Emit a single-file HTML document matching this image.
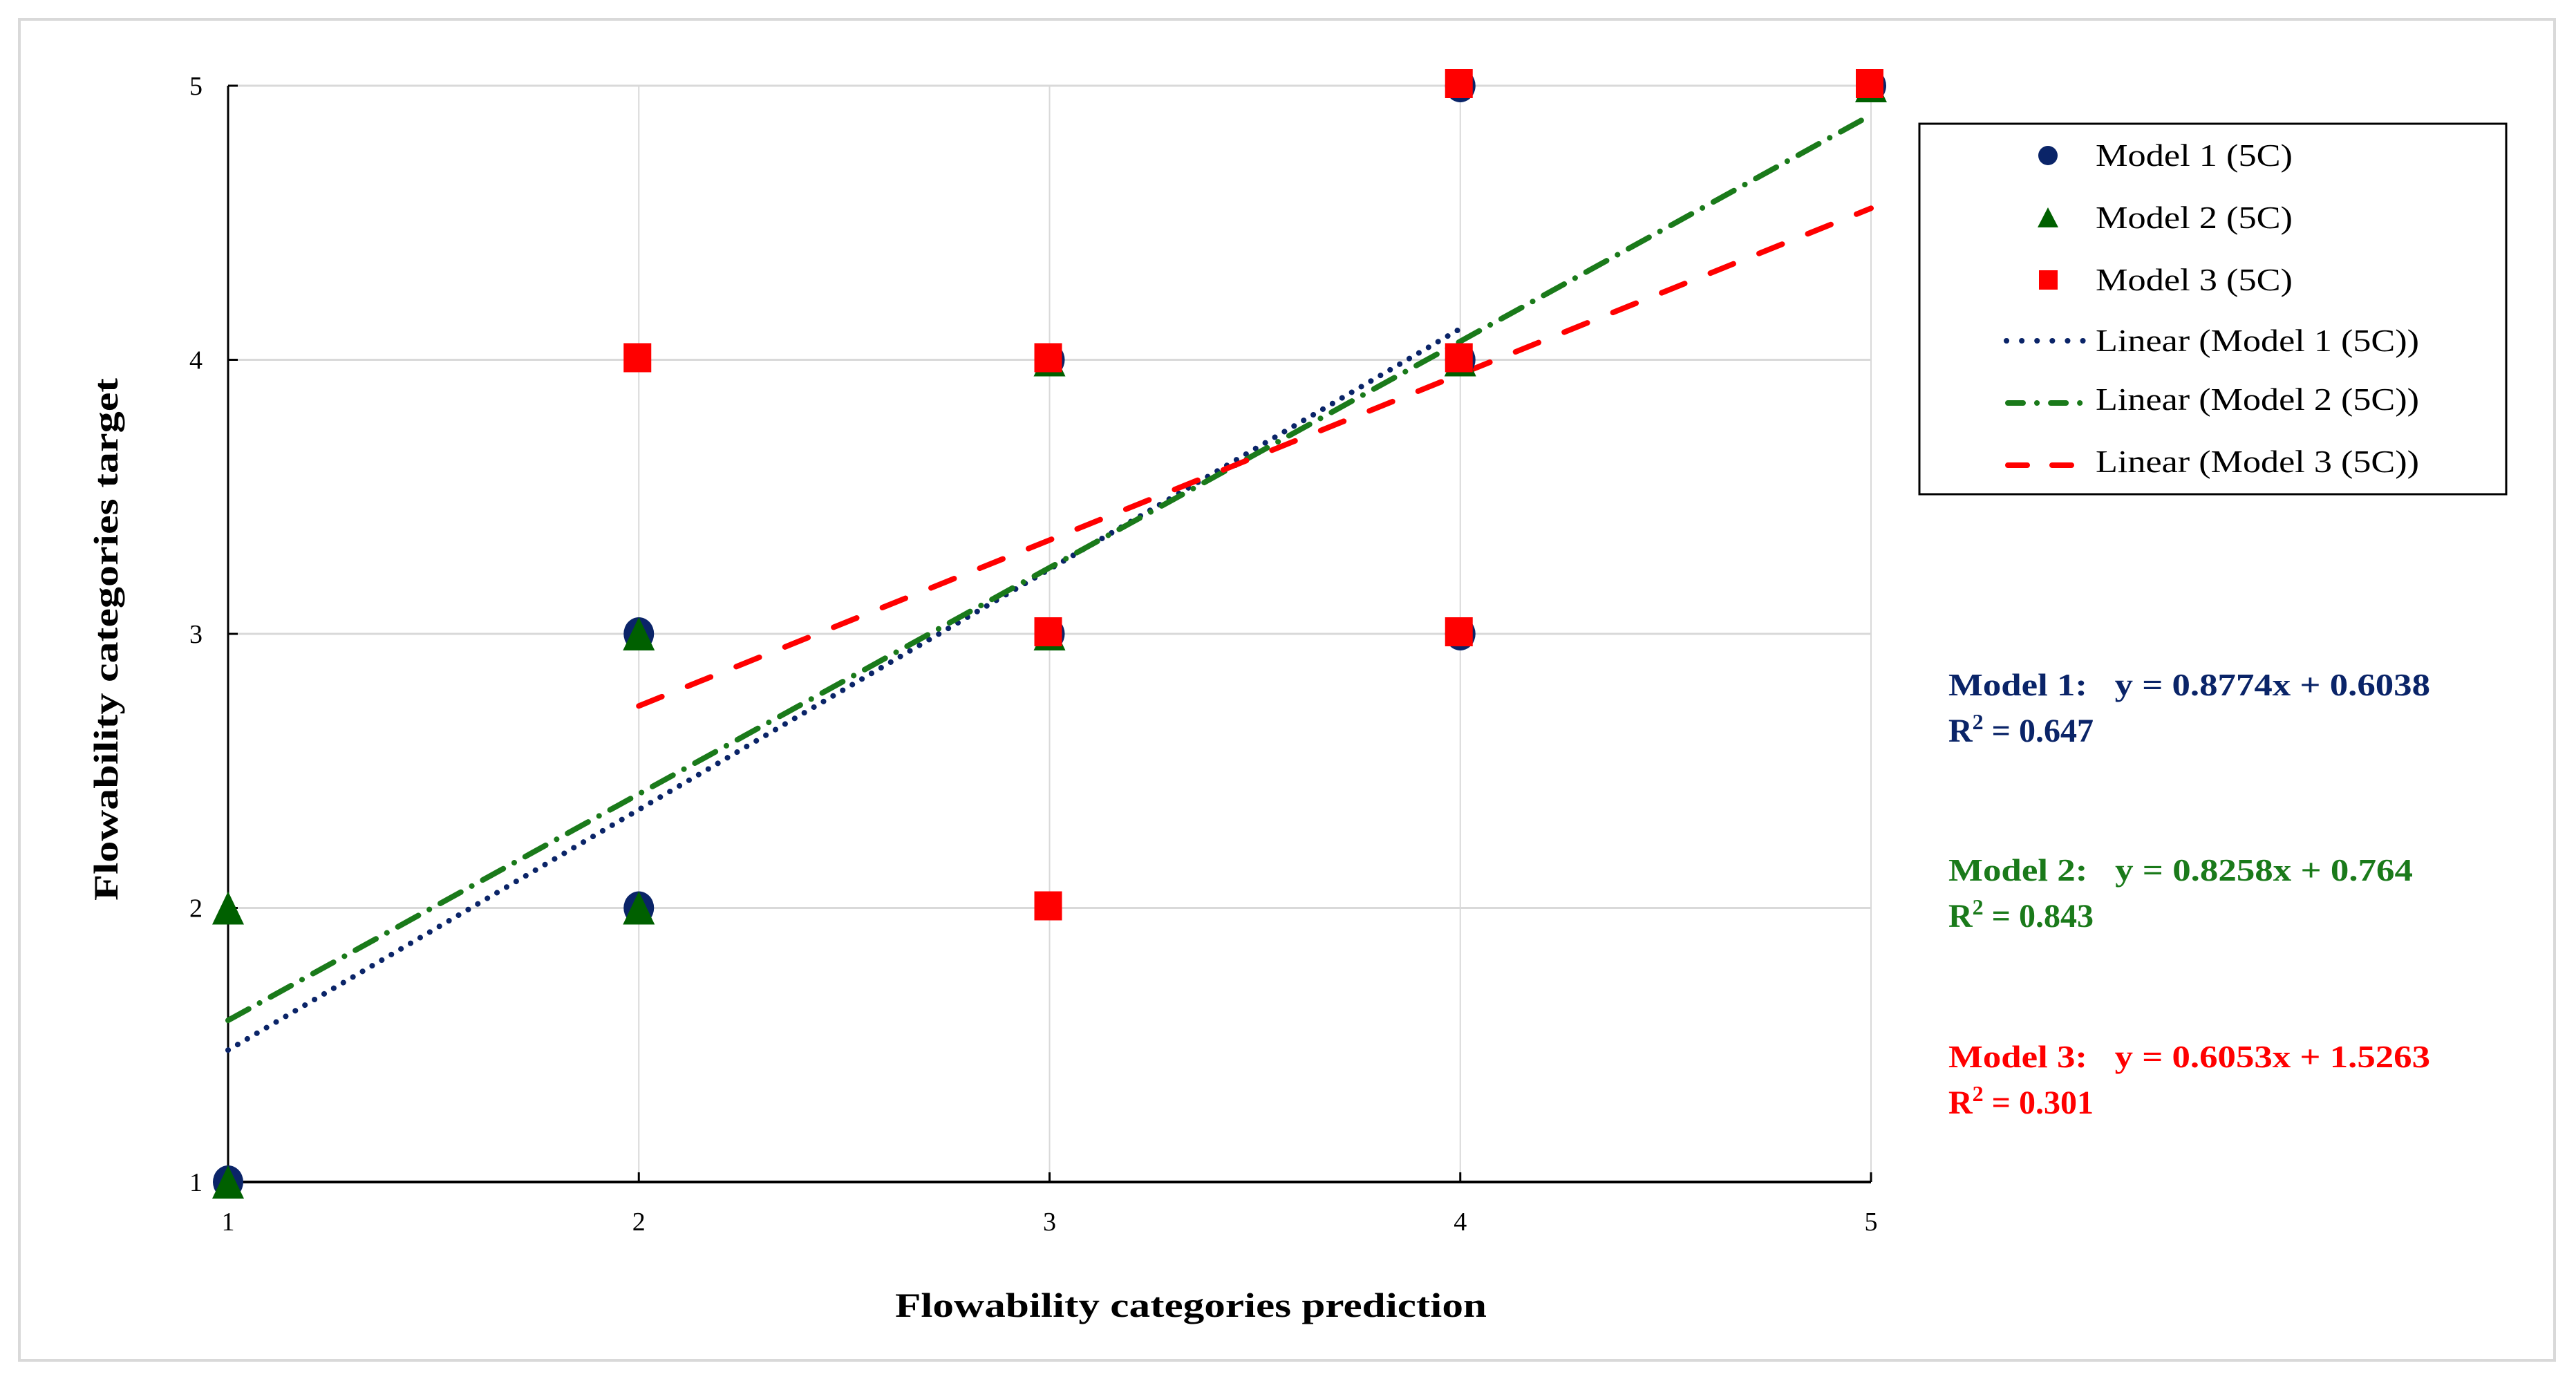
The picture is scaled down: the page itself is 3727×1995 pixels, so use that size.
<!DOCTYPE html>
<html><head><meta charset="utf-8"><style>
html,body{margin:0;padding:0;background:#fff;}
svg{display:block;font-family:"Liberation Serif",serif;}
</style></head><body>
<svg id="chart" width="3727" height="1995" viewBox="0 0 3727 1995" xmlns="http://www.w3.org/2000/svg">
<rect x="28" y="28" width="3668" height="1940" fill="#fff" stroke="#d9d9d9" stroke-width="4"/>
<g id="grid"></g>
<g id="axes"></g>
<g id="trends"></g>
<g id="points"></g>
<text x="1723" y="1905" font-size="50" font-weight="bold" text-anchor="middle" textLength="856" lengthAdjust="spacingAndGlyphs">Flowability categories prediction</text>
<text transform="translate(170,925) rotate(-90)" font-size="50" font-weight="bold" text-anchor="middle" textLength="756" lengthAdjust="spacingAndGlyphs">Flowability categories target</text>
<g>
<rect x="2777" y="179" width="849" height="536" fill="#fff" stroke="#000" stroke-width="3"/>
<circle cx="2963" cy="225" r="14" fill="#0a2468"/>
<text x="3032" y="240" font-size="46" textLength="285" lengthAdjust="spacingAndGlyphs">Model 1 (5C)</text>
<polygon points="2963,300 2948,329 2978,329" fill="#006000"/>
<text x="3032" y="330" font-size="46" textLength="285" lengthAdjust="spacingAndGlyphs">Model 2 (5C)</text>
<rect x="2950" y="391" width="27" height="28" fill="#ff0000"/>
<text x="3032" y="420" font-size="46" textLength="285" lengthAdjust="spacingAndGlyphs">Model 3 (5C)</text>
<line x1="2903" y1="493" x2="3022" y2="493" stroke="#0a2468" stroke-width="8" stroke-linecap="round" stroke-dasharray="0.1 22"/>
<text x="3032" y="508" font-size="46" textLength="468" lengthAdjust="spacingAndGlyphs">Linear (Model 1 (5C))</text>
<line x1="2905" y1="583" x2="3020" y2="583" stroke="#1a7a1a" stroke-width="8" stroke-linecap="round" stroke-dasharray="22 20 0.1 20"/>
<text x="3032" y="593" font-size="46" textLength="468" lengthAdjust="spacingAndGlyphs">Linear (Model 2 (5C))</text>
<line x1="2905" y1="673" x2="3000" y2="673" stroke="#ff0000" stroke-width="8" stroke-linecap="round" stroke-dasharray="28 36"/>
<text x="3032" y="683" font-size="46" textLength="468" lengthAdjust="spacingAndGlyphs">Linear (Model 3 (5C))</text>
</g>
<g font-weight="bold" font-size="46">
<text x="2819" y="1006" fill="#0a2468" textLength="697" lengthAdjust="spacingAndGlyphs" xml:space="preserve">Model 1:   y = 0.8774x + 0.6038</text>
<text x="2819" y="1073" fill="#0a2468" font-size="48">R<tspan dy="-18" font-size="32">2</tspan><tspan dy="18"> = 0.647</tspan></text>
<text x="2819" y="1274" fill="#1a7a1a" textLength="672" lengthAdjust="spacingAndGlyphs" xml:space="preserve">Model 2:   y = 0.8258x + 0.764</text>
<text x="2819" y="1341" fill="#1a7a1a" font-size="48">R<tspan dy="-18" font-size="32">2</tspan><tspan dy="18"> = 0.843</tspan></text>
<text x="2819" y="1544" fill="#ff0000" textLength="697" lengthAdjust="spacingAndGlyphs" xml:space="preserve">Model 3:   y = 0.6053x + 1.5263</text>
<text x="2819" y="1611" fill="#ff0000" font-size="48">R<tspan dy="-18" font-size="32">2</tspan><tspan dy="18"> = 0.301</tspan></text>
</g>
</svg>
<script>
const xTicks = [1, 2, 3, 4, 5];
const yTicks = [1, 2, 3, 4, 5];
const model1X = [1, 2, 2, 3, 3, 4, 4, 4, 5];
const model1Y = [1, 3, 2, 4, 3, 5, 4, 3, 5];
const model2X = [1, 1, 2, 2, 3, 3, 4, 5];
const model2Y = [1, 2, 3, 2, 4, 3, 4, 5];
const model3X = [2, 3, 3, 3, 4, 4, 4, 5];
const model3Y = [4, 4, 3, 2, 5, 4, 3, 5];
const trendSlope = [0.8774, 0.8258, 0.6053];
const trendIntercept = [0.6038, 0.764, 1.5263];
const trendStart = [1, 1, 2];
const trendEnd = [4, 5, 5];

const NS = 'http://www.w3.org/2000/svg';
const X0 = 330, X1 = 2707, Y0 = 1710, Y1 = 124;
function sx(v){ return X0 + (v - 1) / 4 * (X1 - X0); }
function sy(v){ return Y0 - (v - 1) / 4 * (Y0 - Y1); }
function mk(tag, attrs, parent){
  const e = document.createElementNS(NS, tag);
  for (const k in attrs) e.setAttribute(k, attrs[k]);
  parent.appendChild(e);
  return e;
}
const grid = document.getElementById('grid');
const axes = document.getElementById('axes');
xTicks.forEach(t => {
  if (t > 1) {
    const g = mk('line', {x1: sx(t), x2: sx(t), y1: Y1, y2: Y0, stroke: '#d9d9d9', 'stroke-width': 2}, grid);
    
    
  }
  const tk = mk('line', {x1: sx(t), x2: sx(t), y1: Y0, y2: Y0 - 14, stroke: '#000', 'stroke-width': 3}, axes);
  
  
  const lb = mk('text', {x: sx(t), y: Y0 + 70, 'font-size': 38, 'text-anchor': 'middle'}, axes);
  lb.textContent = t;
  
  
});
yTicks.forEach(t => {
  if (t > 1) {
    const g = mk('line', {x1: X0, x2: X1, y1: sy(t), y2: sy(t), stroke: '#d9d9d9', 'stroke-width': 3}, grid);
    
    
  }
  const tk = mk('line', {x1: X0, x2: X0 + 14, y1: sy(t), y2: sy(t), stroke: '#000', 'stroke-width': 3}, axes);
  
  
  const lb = mk('text', {x: 274, y: sy(t) + 13, 'font-size': 38}, axes);
  lb.textContent = t;
  
  
});
const ya = mk('line', {x1: X0, x2: X0, y1: Y1, y2: Y0, stroke: '#000', 'stroke-width': 3}, axes);


const xa = mk('line', {x1: X0, x2: X1, y1: Y0, y2: Y0, stroke: '#000', 'stroke-width': 4}, axes);



const trends = document.getElementById('trends');
const tColors = ['#0a2468', '#1a7a1a', '#ff0000'];
const tDash = ['0.1 16', '34 18 0.1 18', '36 40'];
const tNames = ['trendline-model1', 'trendline-model2', 'trendline-model3'];
trendSlope.forEach((m, i) => {
  const a = trendStart[i], b = trendEnd[i];
  const l = mk('line', {x1: sx(a), y1: sy(m * a + trendIntercept[i]), x2: sx(b), y2: sy(m * b + trendIntercept[i]),
    stroke: tColors[i], 'stroke-width': 8, 'stroke-linecap': 'round', 'stroke-dasharray': tDash[i], fill: 'none'}, trends);
  
  
});

const pts = document.getElementById('points');
model1X.forEach((x, i) => {
  const c = mk('ellipse', {cx: sx(x), cy: sy(model1Y[i]), rx: 22, ry: 24, fill: '#0a2468'}, pts);
  
  
});
model2X.forEach((x, i) => {
  const cx = sx(x), cy = sy(model2Y[i]);
  const p = mk('polygon', {points: `${cx},${cy-24} ${cx-23},${cy+24} ${cx+23},${cy+24}`, fill: '#006000'}, pts);
  
  
});
model3X.forEach((x, i) => {
  const r = mk('rect', {x: sx(x) - 22, y: sy(model3Y[i]) - 24, width: 40, height: 42, fill: '#ff0000'}, pts);
  
  
});
</script>
</body></html>
